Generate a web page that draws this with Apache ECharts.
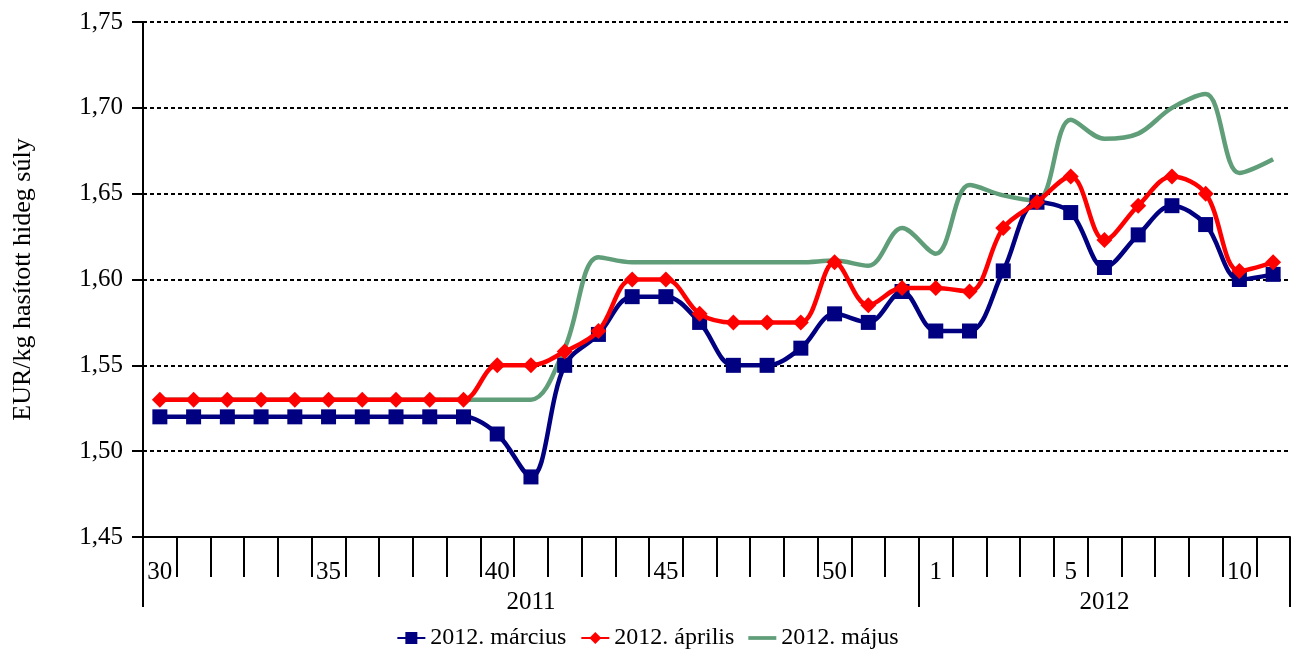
<!DOCTYPE html>
<html>
<head>
<meta charset="utf-8">
<script src="https://cdn.jsdelivr.net/npm/echarts@6/dist/echarts.min.js"></script>
<style>
  html, body { margin: 0; padding: 0; background: #fff; }
  #chart { width: 1295px; height: 649px; }
</style>
</head>
<body>
<div id="chart"></div>
<script>
// heti árak, EUR/kg
const weeks = [
  "30", "31", "32", "33", "34", "35", "36", "37", "38", "39", "40", "41",
  "42", "43", "44", "45", "46", "47", "48", "49", "50", "51", "52",
  "1", "2", "3", "4", "5", "6", "7", "8", "9", "10", "11",
];
const years = ["2011", "2012"];
const weeksPerYear = [23, 11];

const marcius = [
  1.52, 1.52, 1.52, 1.52, 1.52, 1.52, 1.52, 1.52, 1.52, 1.52, 1.51, 1.485,
  1.55, 1.568, 1.59, 1.59, 1.575, 1.55, 1.55, 1.56, 1.58, 1.575, 1.593,
  1.57, 1.57, 1.605, 1.645, 1.639, 1.607, 1.626, 1.643, 1.632, 1.60, 1.603,
];
const aprilis = [
  1.53, 1.53, 1.53, 1.53, 1.53, 1.53, 1.53, 1.53, 1.53, 1.53, 1.55, 1.55,
  1.558, 1.57, 1.60, 1.60, 1.58, 1.575, 1.575, 1.575, 1.61, 1.585, 1.595,
  1.595, 1.593, 1.63, 1.645, 1.66, 1.623, 1.643, 1.66, 1.65, 1.605, 1.61,
];
const majus = [
  1.53, 1.53, 1.53, 1.53, 1.53, 1.53, 1.53, 1.53, 1.53, 1.53, 1.53, 1.53,
  1.56, 1.613, 1.61, 1.61, 1.61, 1.61, 1.61, 1.61, 1.611, 1.608, 1.63,
  1.615, 1.655, 1.649, 1.646, 1.693, 1.682, 1.685, 1.70, 1.708, 1.662, 1.67,
];

const FONT = "'Liberation Serif', 'Times New Roman', serif";

// második szintű tengely: minden héthez az év, felirat a csoport közepén
const yearOfWeek = [];
const yearStart = [];
const yearMid = [];
years.forEach((y, i) => {
  yearStart.push(yearOfWeek.length);
  yearMid.push(yearOfWeek.length + Math.floor(weeksPerYear[i] / 2));
  for (let k = 0; k < weeksPerYear[i]; k++) yearOfWeek.push(y);
});

function showWeek(index, value) {
  const w = Number(value);
  return w % 5 === 0 || w === 1;
}

const chart = echarts.init(document.getElementById("chart"));
chart.setOption({
  animation: false,
  textStyle: { fontFamily: FONT },
  grid: { left: 143, right: 5, top: 22, bottom: 112, outerBoundsMode: "none" },
  legend: {
    top: 621,
    left: "center",
    itemWidth: 28,
    itemHeight: 15,
    itemGap: 14,
    textStyle: { fontFamily: FONT, fontSize: 24, color: "#000" },
    data: [
      { name: "2012. március" },
      { name: "2012. április" },
      { name: "2012. május", icon: "path://M0,0 H30 V4 H0 Z" },
    ],
  },
  xAxis: [
    {
      type: "category",
      data: weeks,
      boundaryGap: true,
      axisLine: { show: true, lineStyle: { color: "#000", width: 2 } },
      axisTick: { show: true, interval: 0, length: 40, lineStyle: { color: "#000", width: 2 } },
      axisLabel: {
        interval: showWeek,
        margin: 23,
        fontFamily: FONT,
        fontSize: 25,
        color: "#000",
      },
    },
    {
      type: "category",
      data: yearOfWeek,
      position: "bottom",
      offset: 40,
      boundaryGap: true,
      axisLine: { show: false },
      axisTick: {
        show: true,
        interval: (i) => yearStart.includes(i),
        length: 30,
        lineStyle: { color: "#000", width: 2 },
      },
      axisLabel: {
        interval: (i) => yearMid.includes(i),
        margin: 13,
        fontFamily: FONT,
        fontSize: 25,
        color: "#000",
      },
    },
  ],
  yAxis: {
    type: "value",
    min: 1.45,
    max: 1.75,
    interval: 0.05,
    name: "EUR/kg hasított hideg súly",
    nameLocation: "middle",
    nameGap: 107,
    nameTextStyle: { fontFamily: FONT, fontSize: 26, color: "#000" },
    axisLine: { show: true, lineStyle: { color: "#000", width: 2 } },
    axisTick: { show: true, length: 11, lineStyle: { color: "#000", width: 2 } },
    axisLabel: {
      margin: 20,
      fontFamily: FONT,
      fontSize: 25,
      color: "#000",
      formatter: (v) => v.toFixed(2).replace(".", ","),
    },
    splitLine: { lineStyle: { color: "#000", width: 2, type: [4, 3] } },
  },
  series: [
    {
      name: "2012. március",
      type: "line",
      data: marcius,
      smooth: 0.35,
      symbol: "rect",
      symbolSize: 15,
      showAllSymbol: true,
      color: "#000080",
      lineStyle: { width: 4.5, color: "#000080" },
      z: 3,
    },
    {
      name: "2012. április",
      type: "line",
      data: aprilis,
      smooth: 0.35,
      symbol: "diamond",
      symbolSize: 16,
      showAllSymbol: true,
      color: "#ff0000",
      lineStyle: { width: 4.5, color: "#ff0000" },
      z: 4,
    },
    {
      name: "2012. május",
      type: "line",
      data: majus,
      smooth: 0.35,
      symbol: "none",
      color: "#5f9e78",
      lineStyle: { width: 4.5, color: "#5f9e78" },
      z: 2,
    },
  ],
});
</script>
</body>
</html>
